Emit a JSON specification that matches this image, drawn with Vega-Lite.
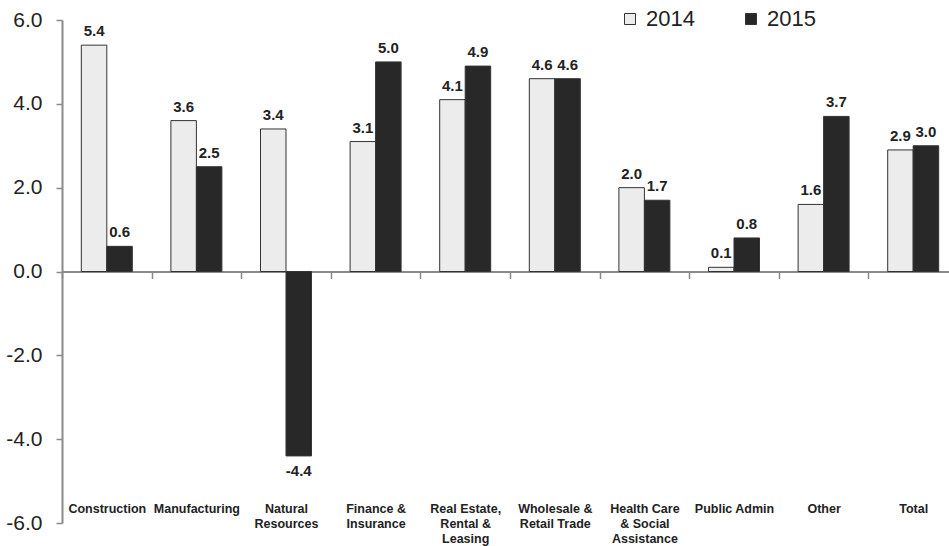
{
  "$schema": "https://vega.github.io/schema/vega-lite/v6.json",
  "width": 887,
  "height": 503,
  "autosize": {"type": "none"},
  "padding": {"left": 62, "top": 20, "right": 0, "bottom": 23},
  "background": "white",
  "config": {
    "view": {"stroke": null},
    "font": "Liberation Sans",
    "axis": {"grid": false},
    "locale": {
      "number": {
        "decimal": ".",
        "thousands": ",",
        "grouping": [3],
        "currency": ["$", ""],
        "minus": "-"
      }
    }
  },
  "data": {
    "values": [
      {"sector": "Construction", "year": "2014", "value": 5.4},
      {"sector": "Construction", "year": "2015", "value": 0.6},
      {"sector": "Manufacturing", "year": "2014", "value": 3.6},
      {"sector": "Manufacturing", "year": "2015", "value": 2.5},
      {"sector": "Natural|Resources", "year": "2014", "value": 3.4},
      {"sector": "Natural|Resources", "year": "2015", "value": -4.4},
      {"sector": "Finance &|Insurance", "year": "2014", "value": 3.1},
      {"sector": "Finance &|Insurance", "year": "2015", "value": 5.0},
      {"sector": "Real Estate,|Rental &|Leasing", "year": "2014", "value": 4.1},
      {"sector": "Real Estate,|Rental &|Leasing", "year": "2015", "value": 4.9},
      {"sector": "Wholesale &|Retail Trade", "year": "2014", "value": 4.6},
      {"sector": "Wholesale &|Retail Trade", "year": "2015", "value": 4.6},
      {"sector": "Health Care|& Social|Assistance", "year": "2014", "value": 2.0},
      {"sector": "Health Care|& Social|Assistance", "year": "2015", "value": 1.7},
      {"sector": "Public Admin", "year": "2014", "value": 0.1},
      {"sector": "Public Admin", "year": "2015", "value": 0.8},
      {"sector": "Other", "year": "2014", "value": 1.6},
      {"sector": "Other", "year": "2015", "value": 3.7},
      {"sector": "Total", "year": "2014", "value": 2.9},
      {"sector": "Total", "year": "2015", "value": 3.0}
    ]
  },
  "encoding": {
    "x": {
      "field": "sector",
      "type": "nominal",
      "sort": null,
      "scale": {"range": [0, 896], "paddingInner": 0, "paddingOuter": 0},
      "axis": {
        "title": null,
        "orient": "bottom",
        "offset": -251.5,
        "domainColor": "#8a8a8a",
        "domainWidth": 2,
        "tickBand": "extent",
        "tickColor": "#8a8a8a",
        "tickWidth": 1.5,
        "tickSize": 7,
        "labelAngle": 0,
        "labelPadding": 224,
        "labelFontSize": 12.5,
        "labelFontWeight": "bold",
        "labelColor": "#222222",
        "labelLineHeight": 15,
        "labelBaseline": "top",
        "labelExpr": "split(datum.label, '|')"
      }
    },
    "xOffset": {
      "field": "year",
      "type": "nominal",
      "scale": {"paddingInner": 0, "paddingOuter": 0.757}
    },
    "y": {
      "field": "value",
      "type": "quantitative",
      "scale": {"domain": [-6, 6], "nice": false, "zero": false},
      "axis": {
        "title": null,
        "values": [-6, -4, -2, 0, 2, 4, 6],
        "format": ".1f",
        "domainColor": "#8a8a8a",
        "domainWidth": 2,
        "tickColor": "#8a8a8a",
        "tickWidth": 1.5,
        "tickSize": 6,
        "labelPadding": 14,
        "labelFontSize": 21,
        "labelColor": "#222222"
      }
    }
  },
  "layer": [
    {
      "mark": {"type": "bar", "stroke": "#333333", "strokeWidth": 1},
      "encoding": {
        "color": {
          "field": "year",
          "type": "nominal",
          "scale": {"domain": ["2014", "2015"], "range": ["#ececec", "#282828"]},
          "legend": {
            "title": null,
            "orient": "none",
            "direction": "horizontal",
            "legendX": 557,
            "legendY": -12,
            "padding": 0,
            "symbolType": "square",
            "symbolSize": 121,
            "symbolStrokeColor": "#333333",
            "symbolStrokeWidth": 1,
            "symbolOpacity": 1,
            "labelFontSize": 22,
            "labelColor": "#222222",
            "labelOffset": 5,
            "columnPadding": 45
          }
        }
      }
    },
    {
      "transform": [{"filter": "datum.value >= 0"}],
      "mark": {"type": "text", "fontSize": 15, "fontWeight": "bold", "color": "#222222", "baseline": "alphabetic", "dy": -9},
      "encoding": {"text": {"field": "value", "type": "quantitative", "format": ".1f"}}
    },
    {
      "transform": [{"filter": "datum.value < 0"}],
      "mark": {"type": "text", "fontSize": 15, "fontWeight": "bold", "color": "#222222", "baseline": "top", "dy": 8},
      "encoding": {"text": {"field": "value", "type": "quantitative", "format": ".1f"}}
    }
  ]
}
